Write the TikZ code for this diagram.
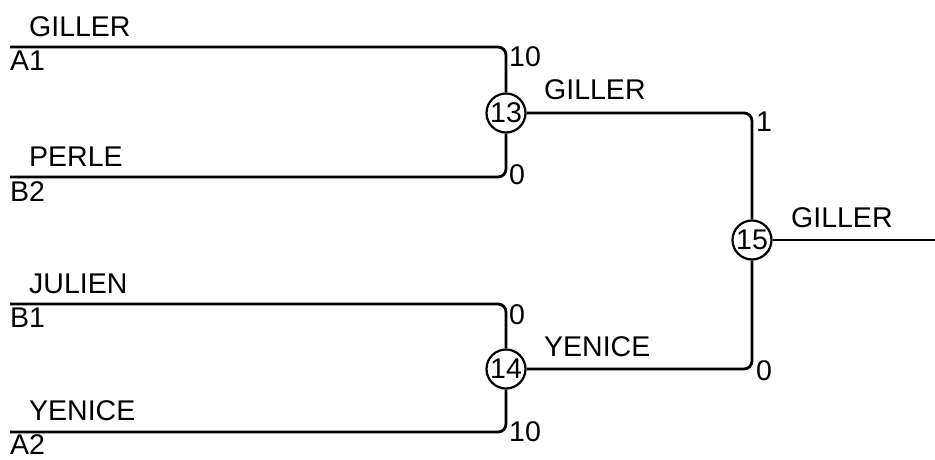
\documentclass[tikz,border=0pt]{standalone}
\usepackage{fontspec}
\setmainfont{Liberation Sans}
\begin{document}
\begin{tikzpicture}[x=1pt,y=-1pt,
  lbl/.style={inner sep=0pt,font=\fontsize{28.5}{31}\selectfont},
  match/.style={circle,draw,line width=2.2pt,minimum size=39pt,inner sep=0pt,font=\fontsize{28.5}{31}\selectfont},
  wire/.style={line width=2.8pt,rounded corners=8pt}]
\path[use as bounding box] (0,0) rectangle (935,459);
\coordinate (a1) at (10,47);
\coordinate (b2) at (10,177);
\coordinate (b1) at (10,304);
\coordinate (a2) at (10,432);
\coordinate (out) at (935,240);
\node[match] (n13) at (506,113) {13};
\node[match] (n14) at (506,369) {14};
\node[match] (n15) at (752,240) {15};
\draw[wire] (a1) -| (n13);
\draw[wire] (b2) -| (n13);
\draw[wire] (b1) -| (n14);
\draw[wire] (a2) -| (n14);
\draw[wire] (n13) -| (n15);
\draw[wire] (n14) -| (n15);
\draw[wire] (n15) -- (out);
% player labels
\node[lbl,anchor=west] (t1) at (29,27) {GILLER};
\node[lbl,anchor=west] (s1) at (10,61) {A1};
\node[lbl,anchor=west] (t2) at (29,157) {PERLE};
\node[lbl,anchor=west] (s2) at (10,192) {B2};
\node[lbl,anchor=west] (t3) at (29,284) {JULIEN};
\node[lbl,anchor=west] (s3) at (10,318) {B1};
\node[lbl,anchor=west] (t4) at (29,411) {YENICE};
\node[lbl,anchor=west] (s4) at (10,445) {A2};
\node[lbl,anchor=west] (w13) at (544,90) {GILLER};
\node[lbl,anchor=west] (w14) at (544,347) {YENICE};
\node[lbl,anchor=west] (w15) at (791,218) {GILLER};
% scores
\node[lbl,anchor=west] (c1) at (509,57) {10};
\node[lbl,anchor=west] (c2) at (509,175) {0};
\node[lbl,anchor=west] (c3) at (509,315) {0};
\node[lbl,anchor=west] (c4) at (509,432) {10};
\node[lbl,anchor=west] (c5) at (756,122) {1};
\node[lbl,anchor=west] (c6) at (756,371) {0};
\end{tikzpicture}
\end{document}
